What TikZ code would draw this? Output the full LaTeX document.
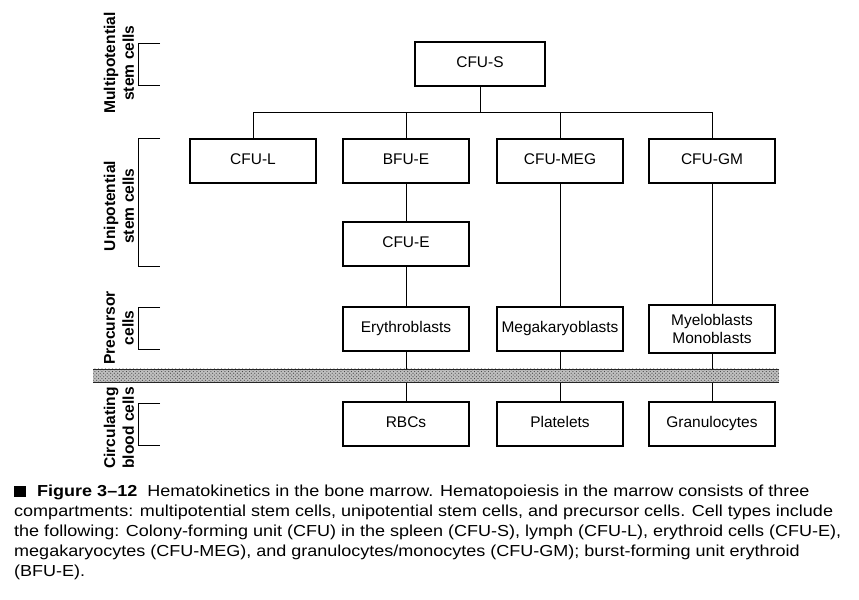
\documentclass[tikz,border=0pt]{standalone}
\usepackage{fontspec}
\setmainfont{Liberation Sans}
\newfontfamily\capfont[FakeStretch=1.13]{Liberation Sans}
\usetikzlibrary{patterns}
\begin{document}
\begin{tikzpicture}[x=0.03cm,y=-0.03cm,
  box/.style={draw,line width=1.8pt,minimum width=3.78cm,minimum height=1.3cm,inner sep=0pt,align=center,text height=9.5pt,text depth=2.8pt,font=\fontsize{13.2}{15}\selectfont},
  twoline/.style={text height=,text depth=,minimum height=1.44cm},
  link/.style={line width=0.6pt},
  brk/.style={line width=0.6pt},
  side/.style={rotate=90,align=center,font=\bfseries\fontsize{13.3}{16}\selectfont},
  captext/.style={anchor=west,inner sep=0pt,font=\capfont\fontsize{13.6}{17}\selectfont}]
\useasboundingbox (0,0) rectangle (859,600);
% boxes
\node[box,minimum width=3.9cm] (cfus) at (480,64) {CFU-S};
\node[box] (cful) at (253,161) {CFU-L};
\node[box] (bfue) at (406,161) {BFU-E};
\node[box] (cfumeg) at (560,161) {CFU-MEG};
\node[box] (cfugm) at (712,161) {CFU-GM};
\node[box] (cfue) at (406,244) {CFU-E};
\node[box] (ery) at (406,329) {Erythroblasts};
\node[box] (mega) at (560,329) {Megakaryoblasts};
\node[box,twoline] (myelo) at (712,329) {Myeloblasts\\Monoblasts};
\node[box] (rbc) at (406,424) {RBCs};
\node[box] (plt) at (560,424) {Platelets};
\node[box] (gran) at (712,424) {Granulocytes};
% connectors
\coordinate (bus) at (480,112);
\draw[link] (cfus.south) -- (bus);
\draw[link] (cful.north) -- (cful.north |- bus) -- (cfugm.north |- bus) -- (cfugm.north);
\draw[link] (bfue.north) -- (bfue.north |- bus);
\draw[link] (cfumeg.north) -- (cfumeg.north |- bus);
\draw[link] (bfue) -- (cfue);
\draw[link] (cfue) -- (ery);
\draw[link] (ery) -- (rbc);
\draw[link] (cfumeg) -- (mega);
\draw[link] (mega) -- (plt);
\draw[link] (cfugm) -- (myelo);
\draw[link] (myelo) -- (gran);
% band
\fill[gray!50] (93,369) rectangle (779,382);
\fill[pattern=crosshatch dots,pattern color=gray!60!black] (93,369) rectangle (779,382);
\draw[line width=0.6pt,gray!30!black] (93,369) -- (779,369) (93,382) -- (779,382);
% side brackets
\draw[brk] (160,43) -- (138,43) -- (138,85) -- (160,85);
\draw[brk] (160,138) -- (138,138) -- (138,266) -- (160,266);
\draw[brk] (160,307) -- (138,307) -- (138,349) -- (160,349);
\draw[brk] (160,403) -- (138,403) -- (138,445) -- (160,445);
\node[side] (lmulti) at (119,63) {Multipotential\\stem cells};
\node[side] (luni) at (119,206) {Unipotential\\stem cells};
\node[side] (lprec) at (119,328) {Precursor\\cells};
\node[side] (lcirc) at (119,428) {Circulating\\blood cells};
% caption
\fill (14,486) rectangle (26,497);
\node[captext] (c1) at (37,492) {\textbf{Figure 3–12}\ \ Hematokinetics in the bone marrow. Hematopoiesis in the marrow consists of three};
\node[captext] (c2) at (14,512) {compartments: multipotential stem cells, unipotential stem cells, and precursor cells. Cell types include};
\node[captext] (c3) at (14,532) {the following: Colony-forming unit (CFU) in the spleen (CFU-S), lymph (CFU-L), erythroid cells (CFU-E),};
\node[captext] (c4) at (14,552) {megakaryocytes (CFU-MEG), and granulocytes/monocytes (CFU-GM); burst-forming unit erythroid};
\node[captext] (c5) at (14,572) {(BFU-E).};
\end{tikzpicture}
\end{document}
